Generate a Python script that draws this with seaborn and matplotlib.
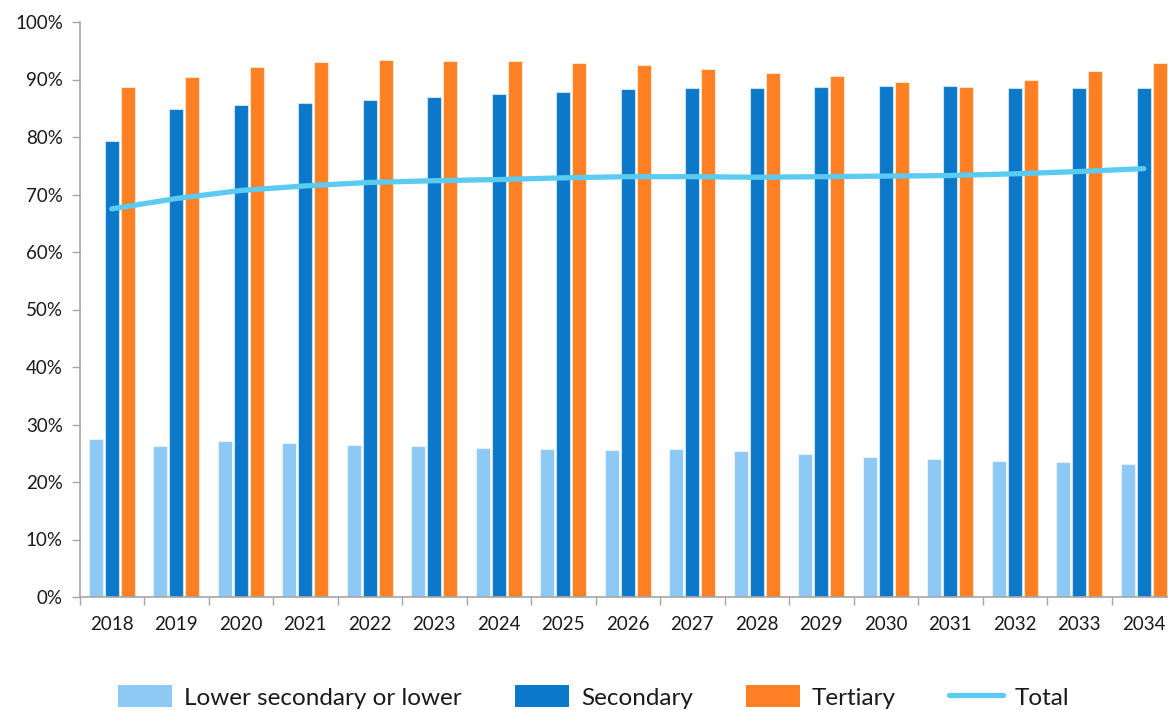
import numpy as np
import pandas as pd
import matplotlib
matplotlib.use("Agg")
import matplotlib.pyplot as plt
from matplotlib.patches import Patch
from matplotlib.lines import Line2D
from matplotlib.ticker import PercentFormatter, FixedLocator
import seaborn as sns

# Share of each education level (percent) by year
years = [str(y) for y in range(2018, 2035)]
lower_secondary = [27.5, 26.3, 27.1, 26.8, 26.4, 26.2, 25.9, 25.7, 25.6,
                   25.7, 25.4, 24.9, 24.4, 24.0, 23.7, 23.4, 23.2]
secondary = [79.3, 84.8, 85.5, 86.0, 86.4, 86.9, 87.4, 87.8, 88.3,
             88.5, 88.6, 88.7, 88.8, 88.9, 88.5, 88.5, 88.5]
tertiary = [88.7, 90.4, 92.1, 93.0, 93.4, 93.3, 93.2, 92.9, 92.6,
            91.9, 91.2, 90.6, 89.6, 88.7, 90.0, 91.5, 92.8]
total = [67.5, 69.3, 70.7, 71.5, 72.1, 72.4, 72.6, 72.9, 73.1,
         73.1, 73.0, 73.1, 73.2, 73.3, 73.6, 74.0, 74.5]

series_names = ["Lower secondary or lower", "Secondary", "Tertiary"]
total_name = "Total"
colors = {"Lower secondary or lower": "#8EC9F5",
          "Secondary": "#0C78CA",
          "Tertiary": "#FF8022"}
total_color = "#5BCBF2"

df = pd.DataFrame({
    "year": years * 3,
    "level": [series_names[0]] * len(years) + [series_names[1]] * len(years)
             + [series_names[2]] * len(years),
    "value": lower_secondary + secondary + tertiary,
})

sns.set_theme(style="white")
plt.rcParams["font.family"] = ["Lato", "DejaVu Sans"]

fig = plt.figure(figsize=(11.68, 7.10), dpi=100)
ax = fig.add_axes([79.5 / 1168, 1 - 597 / 710, 1096.5 / 1168, (597 - 22) / 710])

sns.barplot(data=df, x="year", y="value", hue="level", order=years,
            hue_order=series_names, palette=colors, width=0.75, gap=0.13,
            saturation=1, edgecolor=(1, 1, 1, 0.55), linewidth=0.8,
            legend=False, ax=ax)

sns.lineplot(x=np.arange(len(years)), y=total, color=total_color,
             linewidth=3.8, solid_capstyle="round", ax=ax)

ax.set_xlim(-0.5, len(years) - 0.5)
ax.set_ylim(0, 100)
ax.set_yticks(np.arange(0, 101, 10))
ax.yaxis.set_major_formatter(PercentFormatter(decimals=0))
ax.set_xlabel("")
ax.set_ylabel("")

# Category labels centered, tick marks on category boundaries
ax.set_xticks(np.arange(len(years)))
ax.set_xticklabels(years)
ax.xaxis.set_minor_locator(FixedLocator(np.arange(-0.5, len(years), 1.0)))
ax.tick_params(axis="x", which="major", length=0, pad=14, labelsize=13.5,
               labelcolor="#1a1a1a")
ax.tick_params(axis="x", which="minor", length=6, width=1, color="#A6A6A6",
               direction="out", bottom=True)
ax.tick_params(axis="y", which="major", length=6, width=1, color="#A6A6A6",
               direction="out", left=True, labelsize=13.5, pad=6,
               labelcolor="#1a1a1a")

for side in ["top", "right"]:
    ax.spines[side].set_visible(False)
for side in ["left", "bottom"]:
    ax.spines[side].set_color("#A6A6A6")
    ax.spines[side].set_linewidth(1.2)

handles = [Patch(facecolor=colors[n], edgecolor="none") for n in series_names]
handles.append(Line2D([0], [0], color=total_color, linewidth=3.8))
fig.legend(handles, series_names + [total_name], loc="center",
           bbox_to_anchor=(594 / 1168, 1 - 697 / 710), ncol=4, frameon=False,
           fontsize=17.5, handlelength=2.2, handleheight=1.0,
           handletextpad=0.5, columnspacing=2.2, labelcolor="#1a1a1a")

fig.savefig("out.png", dpi=100)
